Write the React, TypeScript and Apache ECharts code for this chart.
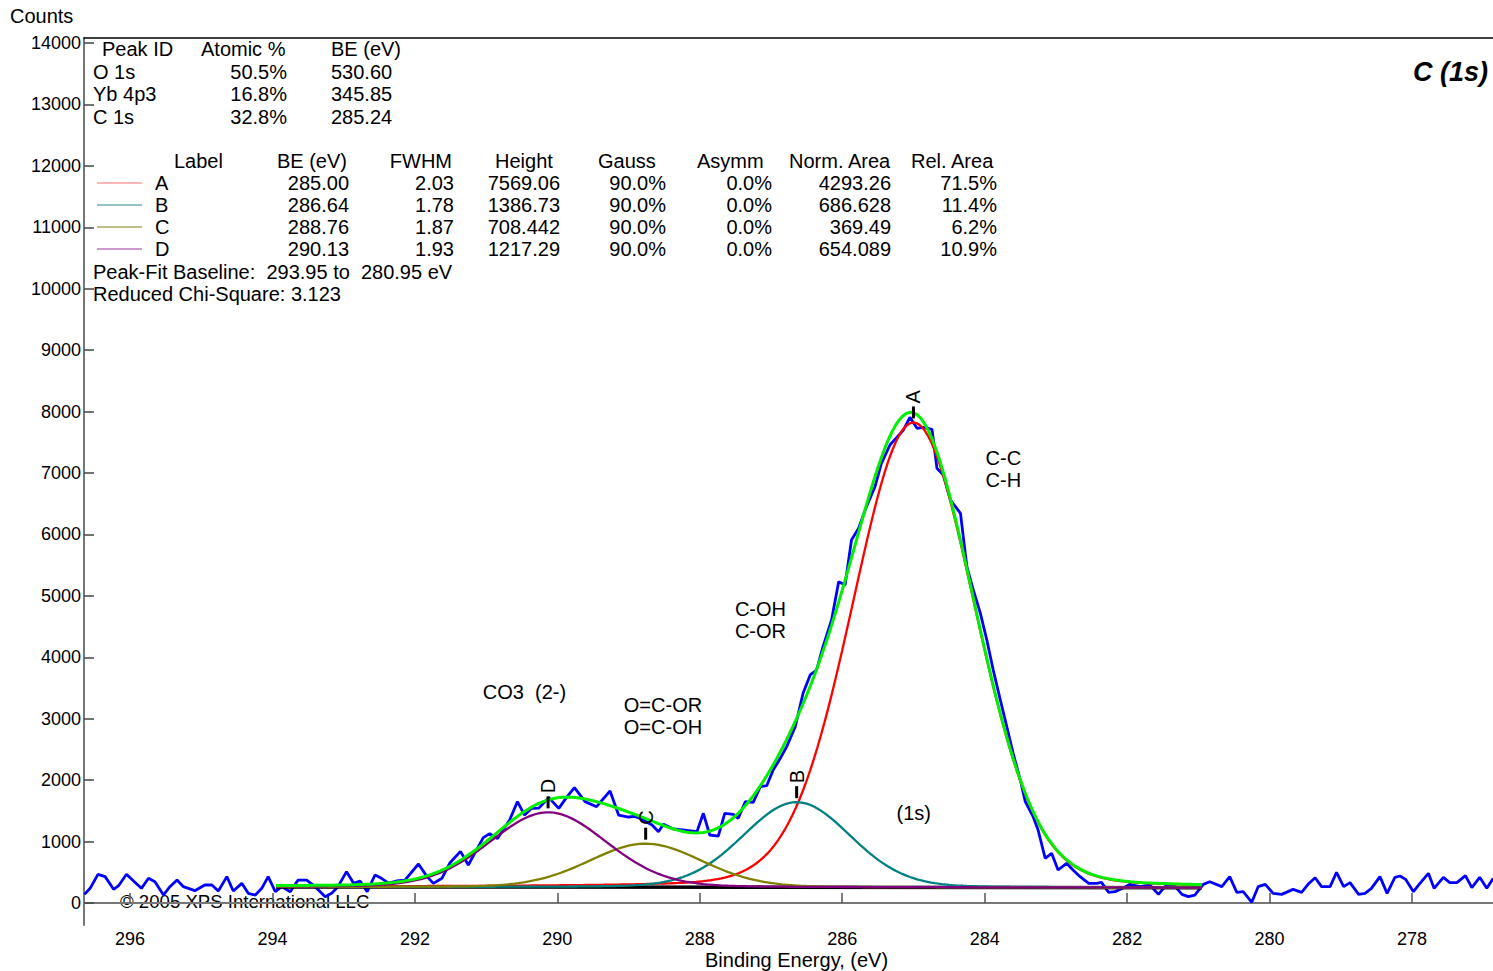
import React, { useEffect, useRef } from "react";
import * as echarts from "echarts";

const FONT = '"Liberation Sans", Arial, Helvetica, sans-serif';

// Survey quantification
const elementIds = ["O 1s", "Yb 4p3", "C 1s"];
const atomicPercent = [50.5, 16.8, 32.8];
const elementBE = [530.6, 345.85, 285.24];

// C 1s peak-fit components
const peakLabels = ["A", "B", "C", "D"];
const peakBE = [285.0, 286.64, 288.76, 290.13];
const peakFWHM = [2.03, 1.78, 1.87, 1.93];
const peakHeight = [7569.06, 1386.73, 708.442, 1217.29];
const peakGauss = [90, 90, 90, 90];
const peakAsymm = [0, 0, 0, 0];
const peakNormArea = [4293.26, 686.628, 369.49, 654.089];
const peakRelArea = [71.5, 11.4, 6.2, 10.9];
const peakColors = ["#ff0000", "#008080", "#808000", "#800080"];
const legendColors = ["#ff6f6f", "#2a8c8c", "#7f7f10", "#9a3a9a"];

// Linear peak-fit baseline end points
const baselineBE = [293.95, 280.95];
const baselineCounts = [262, 250];
const reducedChiSquare = 3.123;

// Measured C 1s spectrum
const rawBE = [
  296.64, 296.56, 296.45, 296.35, 296.23, 296.16, 296.05, 295.95, 295.84, 295.74,
  295.65, 295.53, 295.44, 295.34, 295.25, 295.09, 294.95, 294.85, 294.76, 294.64,
  294.55, 294.43, 294.34, 294.24, 294.15, 294.06, 293.96, 293.87, 293.75, 293.64,
  293.52, 293.4, 293.26, 293.17, 293.08, 292.96, 292.86, 292.77, 292.67, 292.56,
  292.47, 292.37, 292.26, 292.14, 291.95, 291.83, 291.74, 291.62, 291.51, 291.36,
  291.25, 291.04, 290.95, 290.84, 290.67, 290.56, 290.46, 290.36, 290.26, 290.12,
  289.98, 289.87, 289.76, 289.61, 289.45, 289.26, 289.14, 289.0, 288.92, 288.84,
  288.67, 288.58, 288.51, 288.37, 288.21, 288.04, 287.95, 287.86, 287.74, 287.65,
  287.53, 287.46, 287.36, 287.25, 287.15, 287.06, 286.97, 286.87, 286.78, 286.66,
  286.55, 286.45, 286.36, 286.27, 286.15, 286.05, 285.96, 285.87, 285.77, 285.66,
  285.54, 285.45, 285.33, 285.26, 285.14, 285.05, 284.95, 284.86, 284.74, 284.67,
  284.58, 284.48, 284.34, 284.25, 284.16, 284.06, 283.97, 283.88, 283.78, 283.69,
  283.6, 283.5, 283.43, 283.32, 283.25, 283.15, 283.06, 282.97, 282.85, 282.76,
  282.66, 282.54, 282.43, 282.36, 282.26, 282.17, 282.05, 281.96, 281.82, 281.68,
  281.56, 281.47, 281.35, 281.23, 281.14, 281.05, 280.93, 280.84, 280.67, 280.56,
  280.46, 280.37, 280.25, 280.16, 280.06, 279.95, 279.83, 279.67, 279.55, 279.46,
  279.36, 279.27, 279.15, 279.06, 278.96, 278.87, 278.75, 278.66, 278.57, 278.45,
  278.35, 278.24, 278.17, 278.09, 277.98, 277.9, 277.77, 277.69, 277.56, 277.47,
  277.37, 277.25, 277.16, 277.05, 276.95, 276.86,
];
const rawCounts = [
  140, 239, 467, 429, 223, 282, 467, 358, 239, 402,
  347, 130, 266, 374, 266, 201, 293, 293, 195, 429,
  195, 320, 157, 130, 239, 429, 184, 266, 184, 374,
  374, 266, 103, 157, 266, 510, 320, 358, 184, 456,
  402, 325, 358, 374, 635, 429, 320, 402, 651, 840,
  619, 1065, 1130, 1050, 1350, 1650, 1432, 1541, 1545, 1715,
  1541, 1720, 1877, 1650, 1568, 1823, 1432, 1400, 1410, 1379,
  1270, 1161, 1281, 1205, 1188, 1161, 1460, 1107, 1090, 1460,
  1444, 1379, 1650, 1639, 1894, 1910, 2165, 2355, 2545, 2870,
  3414, 3712, 3793, 4173, 4607, 5231, 5177, 5909, 6099, 6451,
  6777, 7158, 7456, 7548, 7700, 7907, 7727, 7744, 7711, 7076,
  6967, 6560, 6344, 5475, 5095, 4716, 4281, 3793, 3305, 2870,
  2437, 2002, 1650, 1405, 1188, 728, 809, 537, 646, 537,
  429, 320, 320, 336, 174, 184, 250, 304, 266, 293,
  141, 266, 304, 141, 103, 130, 304, 347, 266, 429,
  174, 184, 11, 266, 304, 157, 141, 222, 174, 304,
  412, 266, 266, 499, 266, 331, 141, 157, 239, 429,
  157, 418, 440, 385, 184, 304, 483, 239, 418, 331,
  331, 445, 250, 418, 239, 401,
];

const xTicks = [296, 294, 292, 290, 288, 286, 284, 282, 280, 278];
const yTicks = [0, 1000, 2000, 3000, 4000, 5000, 6000, 7000, 8000, 9000, 10000, 11000, 12000, 13000, 14000];

// Chemical-state annotations (anchored at their top-left corner)
const annotationLines = [["C-C", "C-H"], ["C-OH", "C-OR"], ["CO3  (2-)"], ["O=C-OR", "O=C-OH"], ["(1s)"]];
const annotationBE = [283.98, 287.5, 291.04, 289.06, 285.23];
const annotationCounts = [7423, 4949, 3598, 3402, 1628];

const X_MIN = 276.863;
const X_MAX = 296.646;
const Y_MIN = -358;
const Y_MAX = 14081;

function baselineAt(be: number): number {
  const t = (be - baselineBE[0]) / (baselineBE[1] - baselineBE[0]);
  return baselineCounts[0] + t * (baselineCounts[1] - baselineCounts[0]);
}

// Gaussian/Lorentzian sum line shape defined by the fit table
function lineShape(be: number, i: number): number {
  const m = peakGauss[i] / 100;
  const t = (be - peakBE[i]) / peakFWHM[i];
  return peakHeight[i] * (m * Math.exp(-4 * Math.LN2 * t * t) + (1 - m) / (1 + 4 * t * t));
}

const fmt6 = (v: number) => String(Number(v.toPrecision(6)));

export default function App() {
  const ref = useRef<HTMLDivElement>(null);

  useEffect(() => {
    if (!ref.current) return;
    const chart = echarts.init(ref.current, null, { renderer: "svg" });

    const step = 0.05;
    const nFit = Math.round((baselineBE[0] - baselineBE[1]) / step) + 1;
    const fitBE: number[] = [];
    for (let k = 0; k < nFit; k++) fitBE.push(Number((baselineBE[0] - k * step).toFixed(2)));

    const componentSeries = peakLabels.map((lab, i) => ({
      name: lab,
      type: "line",
      data: fitBE.map((e) => [e, baselineAt(e) + lineShape(e, i)]),
      showSymbol: false,
      lineStyle: { color: peakColors[i], width: 2.3 },
      z: 4,
      silent: true,
    }));

    const envelope = fitBE.map((e) => {
      let s = baselineAt(e);
      for (let i = 0; i < peakLabels.length; i++) s += lineShape(e, i);
      return [e, s];
    });

    const txt = (text: string, x: number, y: number, align = "left", extra: any = {}) => ({
      type: "text",
      x,
      y,
      silent: true,
      style: {
        text,
        fill: "#000",
        fontFamily: FONT,
        fontSize: 20,
        textAlign: align,
        textVerticalAlign: "middle",
        ...extra,
      },
    });

    const graphics: any[] = [];
    // survey table
    graphics.push(txt("Peak ID", 102, 49), txt("Atomic %", 201, 49), txt("BE (eV)", 331, 49));
    elementIds.forEach((id, r) => {
      const y = 72 + r * 22.3;
      graphics.push(txt(id, 93, y), txt(atomicPercent[r].toFixed(1) + "%", 287, y, "right"), txt(elementBE[r].toFixed(2), 331, y));
    });
    // fit table
    const hy = 161;
    graphics.push(
      txt("Label", 174, hy),
      txt("BE (eV)", 347, hy, "right"),
      txt("FWHM", 452, hy, "right"),
      txt("Height", 495, hy),
      txt("Gauss", 598, hy),
      txt("Asymm", 697, hy),
      txt("Norm. Area", 789, hy),
      txt("Rel. Area", 911, hy)
    );
    peakLabels.forEach((lab, r) => {
      const y = 183 + r * 22;
      graphics.push({
        type: "line",
        silent: true,
        shape: { x1: 97, y1: y, x2: 142, y2: y },
        style: { stroke: legendColors[r], lineWidth: 1.2 },
      });
      graphics.push(
        txt(lab, 155, y),
        txt(peakBE[r].toFixed(2), 349, y, "right"),
        txt(peakFWHM[r].toFixed(2), 454, y, "right"),
        txt(fmt6(peakHeight[r]), 560, y, "right"),
        txt(peakGauss[r].toFixed(1) + "%", 666, y, "right"),
        txt(peakAsymm[r].toFixed(1) + "%", 772, y, "right"),
        txt(fmt6(peakNormArea[r]), 891, y, "right"),
        txt(peakRelArea[r].toFixed(1) + "%", 997, y, "right")
      );
    });
    graphics.push(
      txt(`Peak-Fit Baseline:  ${baselineBE[0].toFixed(2)} to  ${baselineBE[1].toFixed(2)} eV`, 93, 272),
      txt(`Reduced Chi-Square: ${reducedChiSquare.toFixed(3)}`, 93, 294)
    );
    graphics.push(txt("Counts", 10, 16));
    graphics.push(txt("Binding Energy, (eV)", 705, 960));
    graphics.push(txt("\u00a9 2005 XPS International LLC", 120, 901, "left", { fontSize: 18.6 }));
    graphics.push(txt("C (1s)", 1488, 72, "right", { fontSize: 27, fontWeight: "bold", fontStyle: "italic" }));

    const option: any = {
      animation: false,
      backgroundColor: "#ffffff",
      grid: { left: 84, right: 0, top: 38, bottom: 46, containLabel: false },
      xAxis: [
        {
          type: "value",
          inverse: true,
          min: X_MIN,
          max: X_MAX,
          position: "bottom",
          axisLine: { show: true, lineStyle: { color: "#777", width: 2 } },
          axisTick: { show: true, inside: true, length: 10, customValues: xTicks, lineStyle: { color: "#555", width: 1.5 } },
          axisLabel: { customValues: xTicks, color: "#000", fontSize: 18, fontFamily: FONT, margin: 5, formatter: (v: number) => String(v) },
          splitLine: { show: false },
        },
        {
          type: "value",
          inverse: true,
          min: X_MIN,
          max: X_MAX,
          position: "top",
          axisLine: { show: true, onZero: false, lineStyle: { color: "#000", width: 1.5 } },
          axisTick: { show: false },
          axisLabel: { show: false },
          splitLine: { show: false },
        },
      ],
      yAxis: {
        type: "value",
        min: Y_MIN,
        max: Y_MAX,
        axisLine: { show: true, onZero: false, lineStyle: { color: "#777", width: 2 } },
        axisTick: { show: true, inside: true, length: 10, customValues: yTicks, lineStyle: { color: "#444", width: 1.5 } },
        axisLabel: { customValues: yTicks, color: "#000", fontSize: 18, fontFamily: FONT, margin: 3, formatter: (v: number) => String(v) },
        splitLine: { show: false },
      },
      graphic: graphics,
      series: [
        {
          name: "Counts",
          type: "line",
          data: rawBE.map((e, i) => [e, rawCounts[i]]),
          showSymbol: false,
          lineStyle: { color: "#0000ff", width: 2.8 },
          z: 2,
          silent: true,
        },
        {
          name: "Baseline",
          type: "line",
          data: baselineBE.map((e, i) => [e, baselineCounts[i]]),
          showSymbol: false,
          lineStyle: { color: "#000", width: 3.5 },
          z: 3,
          silent: true,
        },
        ...componentSeries,
        {
          name: "Envelope",
          type: "line",
          data: envelope,
          showSymbol: false,
          lineStyle: { color: "#00f000", width: 3 },
          z: 5,
          silent: true,
        },
        {
          name: "Peak markers",
          type: "scatter",
          data: peakLabels.map((lab, i) => ({ name: lab, value: [peakBE[i], baselineAt(peakBE[i]) + peakHeight[i]] })),
          symbol: "rect",
          symbolSize: [3, 12],
          symbolOffset: [0, -10],
          itemStyle: { color: "#000", opacity: 1 },
          label: {
            show: true,
            formatter: "{b}",
            position: "top",
            distance: 3,
            rotate: 90,
            align: "left",
            verticalAlign: "middle",
            color: "#000",
            fontSize: 20,
            fontFamily: FONT,
          },
          z: 6,
          silent: true,
        },
        {
          name: "Annotations",
          type: "scatter",
          data: annotationLines.map((lines, i) => ({ name: lines.join("\n"), value: [annotationBE[i], annotationCounts[i]] })),
          symbol: "circle",
          symbolSize: 1,
          itemStyle: { color: "rgba(0,0,0,0)", opacity: 1 },
          label: {
            show: true,
            formatter: "{b}",
            position: [0, 0],
            align: "left",
            verticalAlign: "top",
            color: "#000",
            fontSize: 20,
            fontFamily: FONT,
            lineHeight: 22,
          },
          z: 6,
          silent: true,
        },
      ],
    };

    chart.setOption(option);
    return () => chart.dispose();
  }, []);

  return <div ref={ref} style={{ position: "absolute", left: 0, top: 0, width: 1493, height: 971 }} />;
}
